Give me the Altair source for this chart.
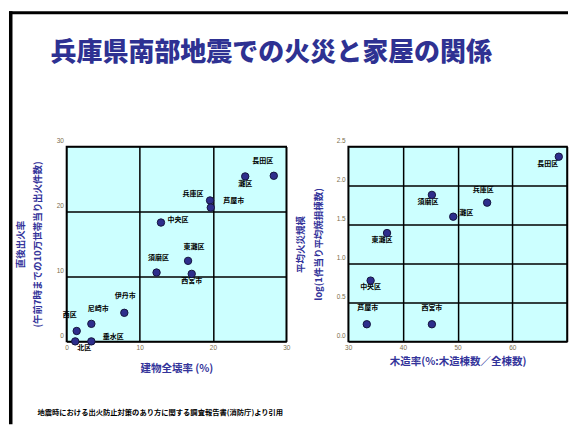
import altair as alt
import pandas as pd

# ---------------- data ----------------
names_left = ["長田区", "灘区", "兵庫区", "芦屋市", "中央区", "東灘区", "須磨区",
              "西宮市", "伊丹市", "尼崎市", "西区", "北区", "垂水区"]
collapse_rate = [28.3, 24.4, 19.6, 19.7, 12.9, 16.6, 12.3, 17.1, 7.9, 3.4, 1.4, 1.2, 3.4]
fire_rate = [25.5, 25.4, 21.7, 20.6, 18.3, 12.4, 10.6, 10.4, 4.4, 2.7, 1.6, 0.0, 0.0]

names_right = ["長田区", "須磨区", "兵庫区", "灘区", "東灘区", "中央区", "芦屋市", "西宮市"]
wooden_rate = [68.5, 45.3, 55.4, 49.2, 37.1, 34.1, 33.4, 45.3]
fire_scale = [2.37, 1.88, 1.78, 1.60, 1.39, 0.78, 0.22, 0.22]

left_x_ticks = [0, 10, 20, 30]
left_y_ticks = [0, 10, 20, 30]
right_x_ticks = [30, 40, 50, 60, 70]
right_y_ticks = [0.0, 0.5, 1.0, 1.5, 2.0, 2.5]

title_text = "兵庫県南部地震での火災と家屋の関係"
footnote_text = "地震時における出火防止対策のあり方に関する調査報告書(消防庁)より引用"

# ---------------- style ----------------
W_L, W_R, H = 220, 219, 195
BLUE = "#33339a"
TICK = "#7d6e4c"
PT_FILL = "#2e2e8c"
FONT = "Noto Sans CJK JP"

# label offsets in pixels (dx, dy) - styling only
off_left = {"長田区": (-11, -15), "灘区": (0, 8), "兵庫区": (-17, -6), "芦屋市": (23, -7),
            "中央区": (17, -3), "東灘区": (6, -14), "須磨区": (2, -15), "西宮市": (0, 7),
            "伊丹市": (1, -17), "尼崎市": (7, -15), "西区": (-7, -16), "北区": (9, 7),
            "垂水区": (22, -4)}
off_right = {"長田区": (-11, 7), "須磨区": (-4, 7), "兵庫区": (-4, -13), "灘区": (13, -4),
             "東灘区": (-5, 7), "中央区": (0, 6), "芦屋市": (1, -16), "西宮市": (0, -16)}

dfL = pd.DataFrame({"name": names_left, "x": collapse_rate, "y": fire_rate})
dfL["lx"] = dfL["x"] + dfL["name"].map(lambda n: off_left[n][0]) * 30 / W_L
dfL["ly"] = dfL["y"] - dfL["name"].map(lambda n: off_left[n][1]) * 30 / H

dfR = pd.DataFrame({"name": names_right, "x": wooden_rate, "y": fire_scale})
dfR["lx"] = dfR["x"] + dfR["name"].map(lambda n: off_right[n][0]) * 40 / W_R
dfR["ly"] = dfR["y"] - dfR["name"].map(lambda n: off_right[n][1]) * 2.5 / H


def axis(values, title, pad, line_h=None, fmt=None, vertical=False, label_expr=None):
    kw = dict(values=values, title=title, grid=True, gridColor="black", gridWidth=1.5,
              domain=False, ticks=False, labelColor=TICK, labelFontSize=6.5,
              labelFont="Liberation Sans", labelPadding=3, labelOverlap=False,
              labelFlush=False, titleColor=BLUE, titleFont=FONT, titleFontWeight="bold",
              titlePadding=pad)
    if fmt:
        kw["format"] = fmt
    if label_expr:
        kw["labelExpr"] = label_expr
    if vertical:
        kw.update(labelBaseline="middle", labelOffset=-6, titleFontSize=9.5,
                  titleLineHeight=line_h)
    else:
        kw.update(titleFontSize=10.5)
    return alt.Axis(**kw)


one = alt.Data(values=[{"a": 1}])

# ---------------- left panel ----------------
sxl = alt.Scale(domain=[0, 30], nice=False)
syl = alt.Scale(domain=[0, 30], nice=False)
axl_x = axis(left_x_ticks, "建物全壊率 (%)", 13)
axl_y = axis(left_y_ticks, ["直後出火率", "(午前7時までの10万世帯当り出火件数)"], 14,
             line_h=17, vertical=True)

baseL = alt.Chart(dfL)
labelsL = baseL.mark_text(font=FONT, fontSize=7, fontWeight="bold", color="black").encode(
    x=alt.X("lx:Q", scale=sxl, axis=axl_x),
    y=alt.Y("ly:Q", scale=syl, axis=axl_y),
    text="name:N")
pointsL = baseL.mark_point(filled=True, size=55, color=PT_FILL, stroke="#15153f",
                           strokeWidth=1, opacity=1, clip=False).encode(
    x=alt.X("x:Q", scale=sxl, axis=axl_x),
    y=alt.Y("y:Q", scale=syl, axis=axl_y))

# slide frame (thick black border at left and top)
frame_v = alt.Chart(one).mark_rect(color="black", clip=False).encode(
    x=alt.value(-57.5), x2=alt.value(-54), y=alt.value(-135.5), y2=alt.value(278))
frame_h = alt.Chart(one).mark_rect(color="black", clip=False).encode(
    x=alt.value(-57.5), x2=alt.value(502), y=alt.value(-135.5), y2=alt.value(-132.5))
title_mark = alt.Chart(one).mark_text(text=title_text, font=FONT, fontSize=26,
                                      fontWeight=900, color="#2e3192", align="center",
                                      baseline="middle").encode(
    x=alt.value(205), y=alt.value(-94))
foot_mark = alt.Chart(one).mark_text(text=footnote_text, font=FONT, fontSize=7.3,
                                     fontWeight="bold", color="black", align="left",
                                     baseline="middle").encode(
    x=alt.value(-29), y=alt.value(267))

left = alt.layer(frame_v, frame_h, labelsL, pointsL, title_mark, foot_mark).properties(
    width=W_L, height=H)

# ---------------- right panel ----------------
sxr = alt.Scale(domain=[30, 70], nice=False, zero=False)
syr = alt.Scale(domain=[0, 2.5], nice=False)
axr_x = axis(right_x_ticks, "木造率(%:木造棟数／全棟数)", 5.5,
             label_expr="datum.value >= 70 ? '' : datum.label")
axr_y = axis(right_y_ticks, ["平均火災規模", "log(1件当り平均焼損棟数)"], 13,
             line_h=18, fmt=".1f", vertical=True)

baseR = alt.Chart(dfR)
labelsR = baseR.mark_text(font=FONT, fontSize=7, fontWeight="bold", color="black").encode(
    x=alt.X("lx:Q", scale=sxr, axis=axr_x),
    y=alt.Y("ly:Q", scale=syr, axis=axr_y),
    text="name:N")
pointsR = baseR.mark_point(filled=True, size=55, color=PT_FILL, stroke="#15153f",
                           strokeWidth=1, opacity=1, clip=False).encode(
    x=alt.X("x:Q", scale=sxr, axis=axr_x),
    y=alt.Y("y:Q", scale=syr, axis=axr_y))

right = alt.layer(labelsR, pointsR).properties(width=W_R, height=H)

chart = alt.hconcat(left, right, spacing=62, bounds="flush").properties(
    padding={"left": 7.5, "top": 9.5, "right": 0, "bottom": 0},
    background="white",
).configure_view(fill="#ccffff", stroke="black", strokeWidth=1.5)

chart.save("out.html", embed_options={"renderer": "svg", "actions": False})
